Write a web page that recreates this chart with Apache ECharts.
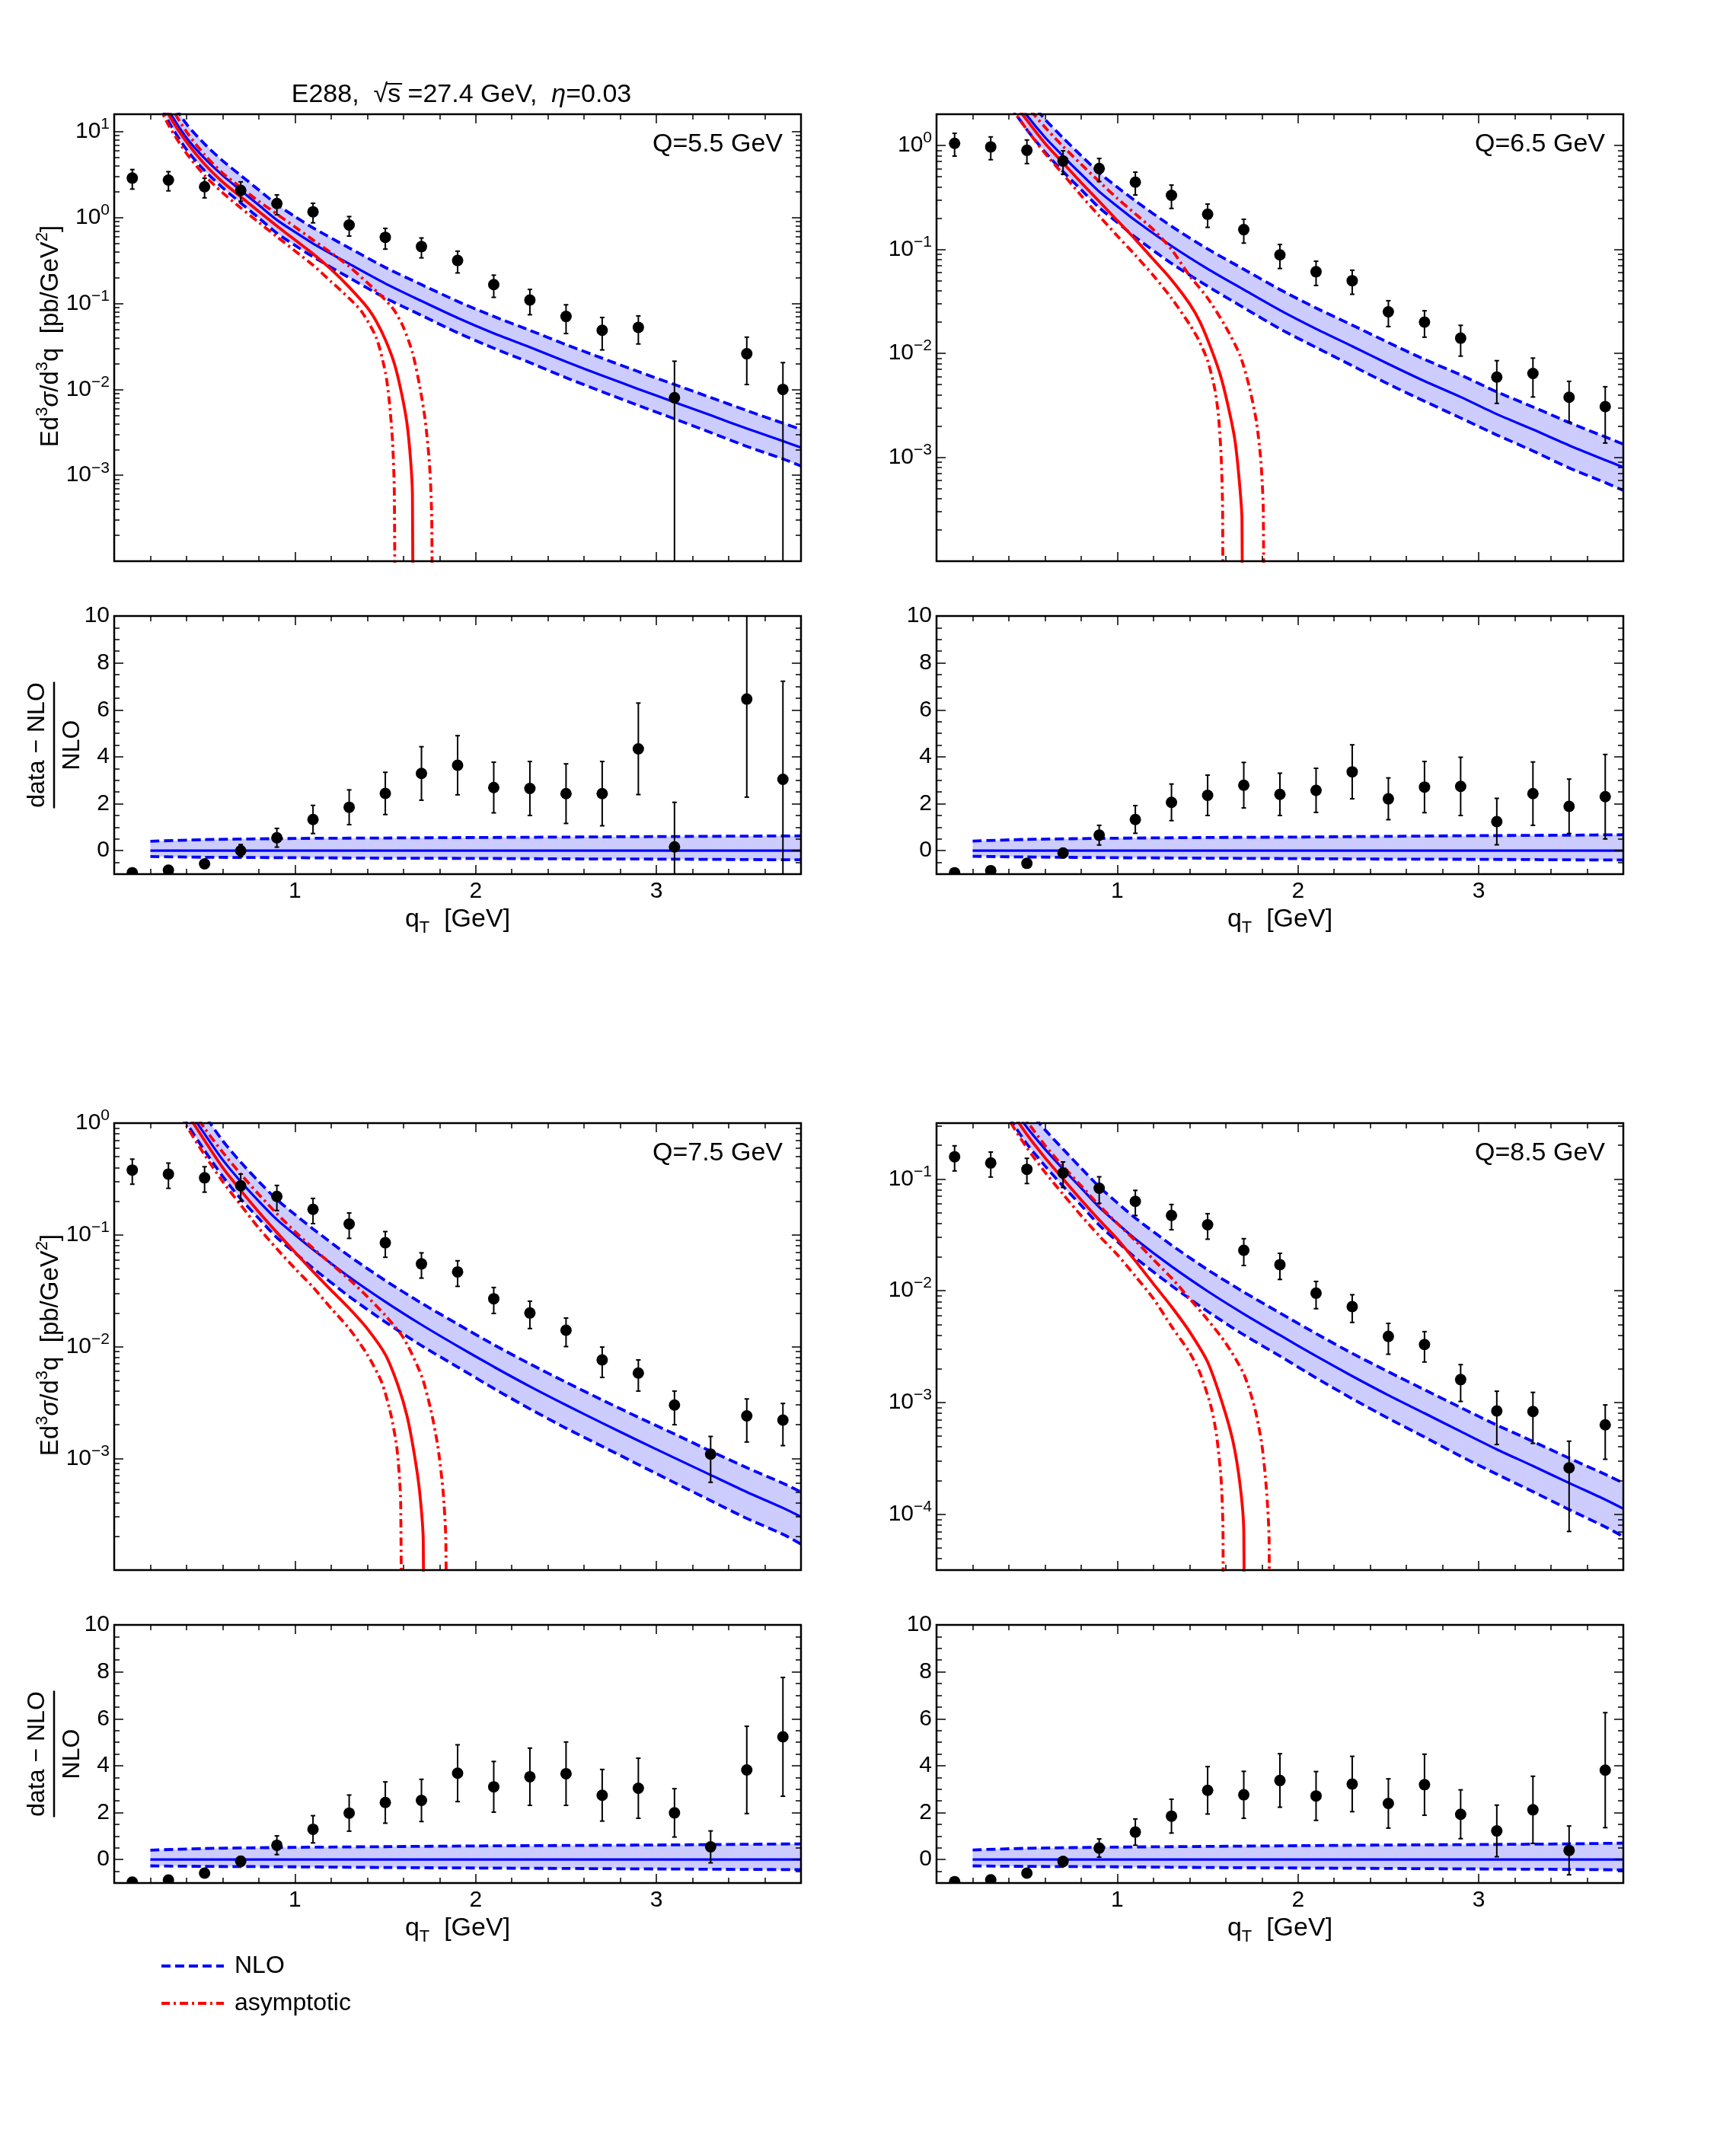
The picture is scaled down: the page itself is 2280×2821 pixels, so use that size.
<!DOCTYPE html>
<html>
<head>
<meta charset="utf-8">
<script src="https://cdn.jsdelivr.net/npm/echarts@6/dist/echarts.min.js"></script>
<style>
html, body { margin: 0; padding: 0; background: #fff; }
#chart { width: 2280px; height: 2821px; }
</style>
</head>
<body>
<div id="chart"></div>
<script>
// ---- data ----
const dataQ = [0.1, 0.3, 0.5, 0.7, 0.9, 1.1, 1.3, 1.5, 1.7, 1.9, 2.1, 2.3, 2.5, 2.7, 2.9, 3.1, 3.3, 3.5, 3.7];
const nloQ = [0.2, 0.3, 0.4, 0.5, 0.6, 0.7, 0.8, 0.9, 1.0, 1.1, 1.3, 1.5, 1.7, 1.9, 2.1, 2.3, 2.5, 2.7, 2.9, 3.1, 3.3, 3.5, 3.7, 3.8];
const bandQ = [0.2, 0.5, 1.0, 1.5, 2.0, 2.5, 3.0, 3.5, 3.8];
const ratioLineQ = [0.2, 3.8];
const ratioLineVal = [0, 0];
const xTickLabels = [1, 2, 3];
const ratioTickLabels = [0, 2, 4, 6, 8, 10];
const qLabels = ['Q=5.5 GeV', 'Q=6.5 GeV', 'Q=7.5 GeV', 'Q=8.5 GeV'];

// Q = 5.5 GeV
const tlYRange = [1e-4, 16];
const tlYExp = [1, 0, -1, -2, -3];
const tlVal = [2.89, 2.74, 2.29, 2.08, 1.46, 1.17, 0.82, 0.59, 0.46, 0.317, 0.166, 0.11, 0.0707, 0.0488, 0.0528, 0.008, null, 0.026, 0.010];
const tlErr = [0.74, 0.69, 0.59, 0.53, 0.38, 0.30, 0.21, 0.16, 0.12, 0.09, 0.048, 0.036, 0.026, 0.02, 0.019, 0.0133, null, 0.0146, 0.0105];
const tlRatio = [-0.94, -0.83, -0.56, 0.0, 0.55, 1.33, 1.85, 2.44, 3.29, 3.64, 2.69, 2.65, 2.43, 2.43, 4.34, 0.16, null, 6.46, 3.04];
const tlRatioErr = [0.03, 0.04, 0.07, 0.26, 0.40, 0.60, 0.74, 0.90, 1.14, 1.26, 1.08, 1.15, 1.27, 1.37, 1.95, 1.90, null, 4.18, 4.18];
const tlNlo = [50, 18, 8.5, 4.9, 3.1, 2.08, 1.4, 0.94, 0.68, 0.50, 0.29, 0.171, 0.107, 0.068, 0.045, 0.031, 0.021, 0.0145, 0.0101, 0.0071, 0.005, 0.0035, 0.0025, 0.0021];
const tlNloUp = [70, 25.7, 12.3, 7.2, 4.59, 3.1, 2.1, 1.42, 1.03, 0.76, 0.444, 0.263, 0.166, 0.106, 0.0707, 0.0487, 0.0332, 0.0231, 0.0161, 0.0114, 0.00805, 0.00567, 0.00405, 0.00342];
const tlNloLo = [37.5, 13.3, 6.2, 3.53, 2.23, 1.48, 0.99, 0.66, 0.476, 0.35, 0.2, 0.116, 0.0728, 0.0456, 0.0302, 0.0205, 0.0137, 0.0094, 0.0065, 0.00454, 0.00315, 0.00217, 0.00155, 0.00128];
const tlAsy = [[0.2, 42], [0.3, 16], [0.4, 7.6], [0.5, 4.2], [0.6, 2.6], [0.7, 1.75], [0.8, 1.18], [0.9, 0.8], [1.0, 0.55], [1.1, 0.38], [1.2, 0.25], [1.3, 0.155], [1.4, 0.09], [1.45, 0.062], [1.5, 0.038], [1.55, 0.02], [1.59, 0.009], [1.62, 0.004], [1.64, 0.0015], [1.65, 0.0006], [1.658, 1e-7]];
const tlAsyUp = [[0.2, 60], [0.3, 22], [0.4, 10], [0.5, 5.4], [0.6, 3.3], [0.7, 2.25], [0.8, 1.55], [0.9, 1.1], [1.0, 0.78], [1.1, 0.55], [1.2, 0.39], [1.3, 0.27], [1.4, 0.175], [1.5, 0.11], [1.55, 0.083], [1.6, 0.053], [1.65, 0.027], [1.69, 0.011], [1.72, 0.0045], [1.745, 0.0013], [1.757, 0.0003], [1.765, 1e-7]];
const tlAsyLo = [[0.2, 33], [0.3, 12], [0.4, 5.6], [0.5, 3.1], [0.6, 1.95], [0.7, 1.3], [0.8, 0.88], [0.9, 0.6], [1.0, 0.41], [1.1, 0.28], [1.2, 0.18], [1.3, 0.115], [1.37, 0.08], [1.45, 0.04], [1.5, 0.016], [1.52, 0.008], [1.54, 0.0025], [1.55, 0.0006], [1.558, 1e-7]];
const tlBandUp = [0.40, 0.47, 0.52, 0.54, 0.56, 0.58, 0.60, 0.62, 0.63];
const tlBandLo = [-0.25, -0.28, -0.30, -0.32, -0.33, -0.35, -0.36, -0.38, -0.39];

// Q = 6.5 GeV
const trYRange = [1e-4, 2];
const trYExp = [0, -1, -2, -3];
const trVal = [1.05, 0.97, 0.90, 0.71, 0.60, 0.444, 0.332, 0.218, 0.155, 0.0885, 0.061, 0.050, 0.0251, 0.020, 0.014, 0.0059, 0.0064, 0.00378, 0.00307];
const trErr = [0.26, 0.24, 0.23, 0.18, 0.15, 0.11, 0.084, 0.055, 0.04, 0.023, 0.016, 0.013, 0.007, 0.0057, 0.0046, 0.0026, 0.0026, 0.0016, 0.0017];
const trRatio = [-0.94, -0.85, -0.54, -0.10, 0.66, 1.33, 2.06, 2.36, 2.79, 2.40, 2.57, 3.36, 2.21, 2.71, 2.74, 1.24, 2.43, 1.89, 2.30];
const trRatioErr = [0.03, 0.04, 0.07, 0.2, 0.42, 0.59, 0.78, 0.86, 0.97, 0.9, 0.94, 1.15, 0.89, 1.09, 1.24, 0.99, 1.35, 1.16, 1.8];
const trNlo = [22, 6.5, 3.4, 1.95, 1.2, 0.79, 0.53, 0.36, 0.26, 0.19, 0.108, 0.065, 0.041, 0.026, 0.0172, 0.0117, 0.0079, 0.0054, 0.0038, 0.0026, 0.00185, 0.0013, 0.00094, 0.0008];
const trNloUp = [31, 9.36, 4.96, 2.89, 1.79, 1.185, 0.80, 0.547, 0.398, 0.293, 0.167, 0.101, 0.0644, 0.0411, 0.0273, 0.0187, 0.0127, 0.00875, 0.0062, 0.00426, 0.00305, 0.00216, 0.00157, 0.00134];
const trNloLo = [16.7, 4.88, 2.52, 1.42, 0.864, 0.561, 0.376, 0.252, 0.182, 0.131, 0.0734, 0.0442, 0.0275, 0.0172, 0.0114, 0.0076, 0.00506, 0.00346, 0.00239, 0.00164, 0.00115, 0.00079, 0.00057, 0.00048];
const trAsy = [[0.2, 19], [0.3, 5.8], [0.4, 3.0], [0.5, 1.75], [0.6, 1.05], [0.7, 0.68], [0.8, 0.44], [0.9, 0.29], [1.0, 0.19], [1.1, 0.125], [1.2, 0.08], [1.3, 0.051], [1.4, 0.03], [1.46, 0.0197], [1.52, 0.011], [1.57, 0.0062], [1.61, 0.0033], [1.65, 0.0015], [1.675, 0.0006], [1.69, 0.00025], [1.70, 1e-7]];
const trAsyUp = [[0.2, 26], [0.3, 7.6], [0.4, 4.1], [0.5, 2.4], [0.6, 1.5], [0.7, 0.98], [0.8, 0.66], [0.9, 0.45], [1.0, 0.31], [1.1, 0.22], [1.2, 0.155], [1.3, 0.1], [1.4, 0.056], [1.5, 0.034], [1.6, 0.018], [1.68, 0.0095], [1.73, 0.0048], [1.77, 0.0022], [1.795, 0.0009], [1.808, 0.0003], [1.816, 1e-7]];
const trAsyLo = [[0.2, 15], [0.3, 4.6], [0.4, 2.5], [0.5, 1.42], [0.6, 0.84], [0.7, 0.53], [0.8, 0.33], [0.9, 0.21], [1.0, 0.135], [1.1, 0.088], [1.2, 0.056], [1.3, 0.034], [1.4, 0.019], [1.45, 0.0135], [1.5, 0.0085], [1.54, 0.0045], [1.56, 0.0025], [1.575, 0.001], [1.583, 0.0003], [1.588, 1e-7]];
const trBandUp = [0.41, 0.48, 0.53, 0.56, 0.58, 0.61, 0.64, 0.66, 0.68];
const trBandLo = [-0.24, -0.27, -0.30, -0.32, -0.34, -0.36, -0.37, -0.39, -0.40];

// Q = 7.5 GeV
const blYRange = [1e-4, 1];
const blYExp = [0, -1, -2, -3];
const blVal = [0.38, 0.35, 0.324, 0.275, 0.221, 0.169, 0.125, 0.085, 0.055, 0.0466, 0.0268, 0.02, 0.014, 0.0076, 0.0058, 0.003, 0.00109, 0.0024, 0.0022];
const blErr = [0.096, 0.089, 0.083, 0.075, 0.056, 0.043, 0.032, 0.022, 0.014, 0.012, 0.007, 0.0055, 0.004, 0.0023, 0.0018, 0.001, 0.00048, 0.001, 0.0009];
const blRatio = [-0.96, -0.87, -0.58, -0.07, 0.61, 1.29, 1.98, 2.43, 2.52, 3.68, 3.10, 3.53, 3.66, 2.74, 3.04, 1.99, 0.54, 3.82, 5.23];
const blRatioErr = [0.03, 0.04, 0.07, 0.2, 0.4, 0.58, 0.77, 0.88, 0.9, 1.21, 1.08, 1.22, 1.35, 1.1, 1.28, 1.03, 0.68, 1.86, 2.53];
const blNlo = [10, 2.8, 1.4, 0.8, 0.47, 0.3, 0.2, 0.137, 0.1, 0.074, 0.042, 0.0252, 0.0157, 0.0101, 0.0066, 0.0044, 0.003, 0.00207, 0.00144, 0.00101, 0.00071, 0.0005, 0.00036, 0.0003];
const blNloUp = [14, 4.0, 2.03, 1.18, 0.696, 0.447, 0.30, 0.207, 0.152, 0.113, 0.0647, 0.039, 0.0245, 0.0159, 0.0104, 0.007, 0.0048, 0.00333, 0.00233, 0.00165, 0.00116, 0.000825, 0.000598, 0.0005];
const blNloLo = [7.3, 2.02, 1.01, 0.568, 0.334, 0.21, 0.14, 0.0945, 0.069, 0.0503, 0.0281, 0.0166, 0.0102, 0.00657, 0.00422, 0.00277, 0.00186, 0.00128, 0.00088, 0.000606, 0.000419, 0.00029, 0.000209, 0.000171];
const blAsy = [[0.2, 8.5], [0.3, 2.4], [0.4, 1.25], [0.5, 0.7], [0.6, 0.4], [0.7, 0.25], [0.8, 0.16], [0.9, 0.105], [1.0, 0.07], [1.1, 0.047], [1.2, 0.032], [1.3, 0.022], [1.4, 0.0145], [1.5, 0.0085], [1.57, 0.0045], [1.62, 0.0024], [1.66, 0.0011], [1.69, 0.0005], [1.71, 0.00018], [1.72, 1e-7]];
const blAsyUp = [[0.2, 12], [0.3, 3.3], [0.4, 1.6], [0.5, 0.9], [0.6, 0.55], [0.7, 0.35], [0.8, 0.23], [0.9, 0.155], [1.0, 0.107], [1.1, 0.076], [1.2, 0.055], [1.3, 0.04], [1.4, 0.028], [1.5, 0.019], [1.6, 0.012], [1.7, 0.0055], [1.75, 0.0028], [1.79, 0.0013], [1.82, 0.0005], [1.835, 0.00018], [1.845, 1e-7]];
const blAsyLo = [[0.2, 7], [0.3, 2.0], [0.4, 0.95], [0.5, 0.52], [0.6, 0.3], [0.7, 0.185], [0.8, 0.115], [0.9, 0.075], [1.0, 0.05], [1.1, 0.034], [1.2, 0.022], [1.3, 0.0145], [1.4, 0.0085], [1.48, 0.0048], [1.53, 0.0025], [1.565, 0.0012], [1.585, 0.0004], [1.595, 1e-7]];
const blBandUp = [0.40, 0.47, 0.52, 0.55, 0.58, 0.60, 0.62, 0.65, 0.67];
const blBandLo = [-0.27, -0.29, -0.31, -0.34, -0.36, -0.38, -0.40, -0.42, -0.43];

// Q = 8.5 GeV
const brYRange = [3.16e-5, 0.316];
const brYExp = [-1, -2, -3, -4];
const brVal = [0.158, 0.139, 0.122, 0.113, 0.0826, 0.063, 0.0471, 0.0389, 0.023, 0.0171, 0.0095, 0.0072, 0.0039, 0.0033, 0.0016, 0.00084, 0.00083, 0.00026, 0.00063];
const brErr = [0.04, 0.035, 0.031, 0.029, 0.022, 0.016, 0.012, 0.01, 0.0062, 0.0045, 0.0026, 0.002, 0.0012, 0.001, 0.00058, 0.00042, 0.0004, 0.00019, 0.00032];
const brRatio = [-0.94, -0.86, -0.58, -0.08, 0.49, 1.17, 1.85, 2.95, 2.76, 3.37, 2.71, 3.22, 2.39, 3.19, 1.93, 1.22, 2.12, 0.39, 3.81];
const brRatioErr = [0.03, 0.04, 0.07, 0.2, 0.39, 0.56, 0.72, 1.01, 1.0, 1.14, 1.04, 1.18, 1.05, 1.3, 1.04, 1.1, 1.43, 1.04, 2.45];
const brNlo = [4, 1.0, 0.5, 0.29, 0.185, 0.123, 0.083, 0.056, 0.04, 0.029, 0.0165, 0.0099, 0.0062, 0.004, 0.0026, 0.00172, 0.00116, 0.0008, 0.00055, 0.00038, 0.00027, 0.00019, 0.000135, 0.000112];
const brNloUp = [5.64, 1.44, 0.73, 0.429, 0.276, 0.185, 0.125, 0.0851, 0.0612, 0.0447, 0.0256, 0.0154, 0.00973, 0.00632, 0.00413, 0.00275, 0.00188, 0.0013, 0.0009, 0.000627, 0.000448, 0.000317, 0.000227, 0.00019];
const brNloLo = [2.92, 0.72, 0.36, 0.206, 0.131, 0.0861, 0.0581, 0.0386, 0.0276, 0.0197, 0.0111, 0.00653, 0.00403, 0.0026, 0.00166, 0.00108, 0.00072, 0.00049, 0.00033, 0.000228, 0.000159, 0.00011, 0.000077, 0.000063];
const brAsy = [[0.2, 3.4], [0.3, 0.88], [0.4, 0.44], [0.5, 0.25], [0.6, 0.155], [0.7, 0.1], [0.8, 0.065], [0.9, 0.043], [1.0, 0.029], [1.1, 0.0185], [1.2, 0.0115], [1.3, 0.0072], [1.4, 0.0043], [1.5, 0.0023], [1.58, 0.001], [1.64, 0.00045], [1.68, 0.00018], [1.70, 0.00007], [1.715, 1e-8]];
const brAsyUp = [[0.2, 4.6], [0.3, 1.15], [0.4, 0.58], [0.5, 0.33], [0.6, 0.2], [0.7, 0.13], [0.8, 0.087], [0.9, 0.058], [1.0, 0.04], [1.1, 0.028], [1.2, 0.019], [1.3, 0.013], [1.4, 0.0085], [1.5, 0.0055], [1.6, 0.0034], [1.7, 0.0018], [1.76, 0.0009], [1.8, 0.00042], [1.825, 0.00017], [1.84, 0.00006], [1.848, 1e-8]];
const brAsyLo = [[0.2, 2.6], [0.3, 0.68], [0.4, 0.34], [0.5, 0.19], [0.6, 0.115], [0.7, 0.073], [0.8, 0.047], [0.9, 0.031], [1.0, 0.021], [1.1, 0.0135], [1.2, 0.0085], [1.3, 0.0048], [1.4, 0.0028], [1.46, 0.0018], [1.52, 0.0009], [1.55, 0.0005], [1.575, 0.0002], [1.585, 0.00007], [1.592, 1e-8]];
const brBandUp = [0.41, 0.48, 0.53, 0.56, 0.59, 0.62, 0.64, 0.67, 0.70];
const brBandLo = [-0.27, -0.29, -0.31, -0.34, -0.36, -0.38, -0.40, -0.42, -0.44];

// ---- layout & style ----
const FONT = '"Liberation Sans", Arial, Helvetica, sans-serif';
const BLUE = '#0000ff', RED = '#ff0000', FILL = '#ccccff';
const panelLeft = [150, 1230, 150, 1230];
const mainTop = [150, 150, 1475, 1475];
const ratioTop = [809, 809, 2134, 2134];
const PW = 902, MH = 587, RH = 339;

const panels = [
  {yr: tlYRange, exp: tlYExp, val: tlVal, err: tlErr, rat: tlRatio, ratErr: tlRatioErr, nlo: tlNlo, up: tlNloUp, lo: tlNloLo, asy: tlAsy, asyUp: tlAsyUp, asyLo: tlAsyLo, bUp: tlBandUp, bLo: tlBandLo},
  {yr: trYRange, exp: trYExp, val: trVal, err: trErr, rat: trRatio, ratErr: trRatioErr, nlo: trNlo, up: trNloUp, lo: trNloLo, asy: trAsy, asyUp: trAsyUp, asyLo: trAsyLo, bUp: trBandUp, bLo: trBandLo},
  {yr: blYRange, exp: blYExp, val: blVal, err: blErr, rat: blRatio, ratErr: blRatioErr, nlo: blNlo, up: blNloUp, lo: blNloLo, asy: blAsy, asyUp: blAsyUp, asyLo: blAsyLo, bUp: blBandUp, bLo: blBandLo},
  {yr: brYRange, exp: brYExp, val: brVal, err: brErr, rat: brRatio, ratErr: brRatioErr, nlo: brNlo, up: brNloUp, lo: brNloLo, asy: brAsy, asyUp: brAsyUp, asyLo: brAsyLo, bUp: brBandUp, bLo: brBandLo}
];

const grids = [], xAxes = [], yAxes = [], series = [], graphics = [];
const tickStyle = {color: '#000', width: 1.5};
const noLine = {show: false, onZero: false};

function zip(xs, ys) { return xs.map((x, i) => [x, ys[i]]); }

function logMinorTicks(r) {
  const out = [];
  for (let n = Math.floor(Math.log10(r[0])); n <= Math.ceil(Math.log10(r[1])); n++) {
    for (let k = 2; k <= 9; k++) {
      const v = k * Math.pow(10, n);
      if (v > r[0] && v < r[1]) out.push(Math.log10(v));
    }
  }
  return out;
}

function logLabel(exps) {
  return function (v) {
    const l = Math.log10(v), e = Math.round(l);
    if (Math.abs(l - e) > 1e-6 || exps.indexOf(e) < 0) return '';
    return '{b|10}{s|' + (e < 0 ? '\u2212' + (-e) : e) + '}';
  };
}

function addX(g, pos, interval, len, labels) {
  xAxes.push({
    type: 'value', gridIndex: g, min: 0, max: 3.8, interval: interval, position: pos, z: 10,
    axisLine: noLine, splitLine: {show: false},
    axisTick: {show: true, inside: true, length: len, lineStyle: tickStyle},
    axisLabel: labels ? {show: true, margin: 8, color: '#000', fontSize: 30, fontFamily: FONT,
      formatter: v => xTickLabels.indexOf(v) >= 0 ? String(v) : ''} : {show: false}
  });
  return xAxes.length - 1;
}

function addY(g, cfg) {
  yAxes.push(Object.assign({gridIndex: g, z: 10, axisLine: noLine, splitLine: {show: false}}, cfg));
  return yAxes.length - 1;
}

function curve(name, xi, yi, pts, color, width, dash, z) {
  return {type: 'line', name: name, xAxisIndex: xi, yAxisIndex: yi, data: pts, symbol: 'none', showSymbol: false,
    smooth: 0.25, clip: true, z: z, silent: true,
    lineStyle: {color: color, width: width, type: dash}, itemStyle: {color: color}};
}

function band(xi, yi, qs, up, lo) {
  return {type: 'custom', xAxisIndex: xi, yAxisIndex: yi, clip: true, z: 1, silent: true,
    data: [[1, 1]],
    renderItem: function (params, api) {
      const pts = [];
      for (let i = 0; i < qs.length; i++) pts.push(api.coord([qs[i], up[i]]));
      for (let i = qs.length - 1; i >= 0; i--) pts.push(api.coord([qs[i], lo[i]]));
      return {type: 'polygon', shape: {points: pts}, style: {fill: FILL}};
    }};
}

function points(xi, yi, vals, errs, isLog) {
  const data = [];
  dataQ.forEach((q, i) => { if (vals[i] != null) data.push([q, vals[i], errs[i]]); });
  return {type: 'custom', xAxisIndex: xi, yAxisIndex: yi, clip: true, z: 20, silent: true,
    dimensions: ['q', 'v', 'e'], encode: {x: 0, y: 1}, data: data,
    renderItem: function (params, api) {
      const q = api.value(0), v = api.value(1), e = api.value(2);
      const lowVal = v - e;
      const lowOff = isLog && lowVal <= 0;
      const top = api.coord([q, v + e]);
      const bot = api.coord([q, lowOff ? 1e-12 : lowVal]);
      const c = api.coord([q, v]);
      const st = {stroke: '#000', lineWidth: 2};
      const kids = [
        {type: 'line', shape: {x1: top[0], y1: top[1], x2: bot[0], y2: bot[1]}, style: st},
        {type: 'line', shape: {x1: top[0] - 3, y1: top[1], x2: top[0] + 3, y2: top[1]}, style: st}
      ];
      if (!lowOff) kids.push({type: 'line', shape: {x1: bot[0] - 3, y1: bot[1], x2: bot[0] + 3, y2: bot[1]}, style: st});
      kids.push({type: 'circle', shape: {cx: c[0], cy: c[1], r: 7.5}, style: {fill: '#000'}});
      return {type: 'group', children: kids};
    }};
}

const DASH = [12, 6];
const DASHDOT = [11, 5, 3, 5];

panels.forEach((p, k) => {
  const gm = grids.length;
  grids.push({left: panelLeft[k], top: mainTop[k], width: PW, height: MH, show: true, borderColor: '#000', borderWidth: 2.5, z: 10});
  const gr = grids.length;
  grids.push({left: panelLeft[k], top: ratioTop[k], width: PW, height: RH, show: true, borderColor: '#000', borderWidth: 2.5, z: 10});

  // main panel axes
  const xm = addX(gm, 'bottom', 1, 12, false);
  addX(gm, 'bottom', 0.2, 7, false);
  addX(gm, 'top', 1, 12, false);
  addX(gm, 'top', 0.2, 7, false);
  const minorLog = logMinorTicks(p.yr);
  const lmin = Math.log10(p.yr[0]), lmax = Math.log10(p.yr[1]);
  const ym = addY(gm, {type: 'log', logBase: 10, min: p.yr[0], max: p.yr[1], position: 'left',
    axisTick: {inside: true, length: 12, lineStyle: tickStyle},
    axisLabel: {show: true, margin: 6, formatter: logLabel(p.exp), color: '#000',
      rich: {b: {fontSize: 30, fontFamily: FONT, color: '#000', lineHeight: 40, verticalAlign: 'middle'},
             s: {fontSize: 21, fontFamily: FONT, color: '#000', lineHeight: 20, verticalAlign: 'top'}}}});
  addY(gm, {type: 'log', logBase: 10, min: p.yr[0], max: p.yr[1], position: 'right',
    axisTick: {inside: true, length: 12, lineStyle: tickStyle}, axisLabel: {show: false}});
  ['left', 'right'].forEach(pos => addY(gm, {type: 'value', min: lmin, max: lmax, position: pos,
    axisTick: {inside: true, length: 7, lineStyle: tickStyle, customValues: minorLog}, axisLabel: {show: false}}));

  // ratio panel axes
  const xr = addX(gr, 'bottom', 1, 12, true);
  addX(gr, 'bottom', 0.2, 7, false);
  addX(gr, 'top', 1, 12, false);
  addX(gr, 'top', 0.2, 7, false);
  const yr = addY(gr, {type: 'value', min: -1, max: 10, position: 'left',
    axisTick: {inside: true, length: 12, lineStyle: tickStyle, customValues: ratioTickLabels},
    axisLabel: {show: true, margin: 6, color: '#000', fontSize: 30, fontFamily: FONT, customValues: ratioTickLabels,
      formatter: v => ratioTickLabels.indexOf(v) >= 0 ? String(v) : ''}});
  addY(gr, {type: 'value', min: -1, max: 10, position: 'right',
    axisTick: {inside: true, length: 12, lineStyle: tickStyle, customValues: ratioTickLabels}, axisLabel: {show: false}});
  ['left', 'right'].forEach(pos => addY(gr, {type: 'value', min: -1, max: 10, interval: 0.5, position: pos,
    axisTick: {inside: true, length: 7, lineStyle: tickStyle}, axisLabel: {show: false}}));

  // main panel series
  series.push(band(xm, ym, nloQ, p.up, p.lo));
  series.push(curve('NLO', xm, ym, zip(nloQ, p.up), BLUE, 3.8, DASH, 3));
  series.push(curve('NLO', xm, ym, zip(nloQ, p.lo), BLUE, 3.8, DASH, 3));
  series.push(curve('NLO central', xm, ym, zip(nloQ, p.nlo), BLUE, 3.2, 'solid', 3));
  series.push(curve('asymptotic', xm, ym, p.asyUp, RED, 3.8, DASHDOT, 4));
  series.push(curve('asymptotic', xm, ym, p.asyLo, RED, 3.8, DASHDOT, 4));
  series.push(curve('asymptotic central', xm, ym, p.asy, RED, 3.8, 'solid', 4));
  series.push(points(xm, ym, p.val, p.err, true));

  // ratio panel series
  series.push(band(xr, yr, bandQ, p.bUp, p.bLo));
  series.push(curve('NLO', xr, yr, zip(bandQ, p.bUp), BLUE, 3.8, DASH, 3));
  series.push(curve('NLO', xr, yr, zip(bandQ, p.bLo), BLUE, 3.8, DASH, 3));
  series.push(curve('NLO central', xr, yr, zip(ratioLineQ, ratioLineVal), BLUE, 3.2, 'solid', 3));
  series.push(points(xr, yr, p.rat, p.ratErr, false));

  // texts
  graphics.push({type: 'text', x: panelLeft[k] + PW - 24, y: mainTop[k] + 40, silent: true,
    style: {text: qLabels[k], fill: '#000', fontSize: 34, fontFamily: FONT, textAlign: 'right', textVerticalAlign: 'middle'}});
  graphics.push({type: 'text', x: panelLeft[k] + PW / 2, y: ratioTop[k] + RH + 60, silent: true,
    style: {text: '{b|q}{t|T}{b|  [GeV]}', fill: '#000', textAlign: 'center', textVerticalAlign: 'middle',
      rich: {b: {fontSize: 34, fontFamily: FONT, fill: '#000', lineHeight: 44, verticalAlign: 'middle'},
             t: {fontSize: 22, fontFamily: FONT, fill: '#000', lineHeight: 22, verticalAlign: 'bottom'}}}});
  if (k % 2 === 0) {
    const cm = mainTop[k] + MH / 2 - 2;
    graphics.push({type: 'text', x: 67, y: cm, rotation: Math.PI / 2, silent: true,
      style: {text: '{n|Ed}{s|3}{i|\u03c3}{n|/d}{s|3}{n|q  [pb/GeV}{s|2}{n|]}', textAlign: 'center', textVerticalAlign: 'middle',
        rich: {n: {fontSize: 33, fontFamily: FONT, fill: '#000', lineHeight: 44, verticalAlign: 'middle'},
               i: {fontSize: 33, fontFamily: FONT, fontStyle: 'italic', fill: '#000', lineHeight: 44, verticalAlign: 'middle'},
               s: {fontSize: 22, fontFamily: FONT, fill: '#000', lineHeight: 22, verticalAlign: 'top'}}}});
    const cr = ratioTop[k] + RH / 2;
    graphics.push({type: 'text', x: 49, y: cr, rotation: Math.PI / 2, silent: true,
      style: {text: 'data \u2212 NLO', fill: '#000', fontSize: 32, fontFamily: FONT, textAlign: 'center', textVerticalAlign: 'middle'}});
    graphics.push({type: 'line', silent: true, shape: {x1: 71, y1: cr - 83, x2: 71, y2: cr + 83}, style: {stroke: '#000', lineWidth: 2.5}});
    graphics.push({type: 'text', x: 95, y: cr, rotation: Math.PI / 2, silent: true,
      style: {text: 'NLO', fill: '#000', fontSize: 32, fontFamily: FONT, textAlign: 'center', textVerticalAlign: 'middle'}});
  }
});

// title with an overline over the s under the root
const TFS = 34;
const mctx = document.createElement('canvas').getContext('2d');
function tw(str, italic) { mctx.font = (italic ? 'italic ' : '') + TFS + 'px ' + FONT; return mctx.measureText(str).width; }
const tParts = ['E288,  \u221a', 's', ' =27.4 GeV,  ', '\u03b7', '=0.03'];
const tW = tw(tParts[0]) + tw(tParts[1]) + tw(tParts[2]) + tw(tParts[3], true) + tw(tParts[4]);
const tCx = 606, tCy = 125;
const sx0 = tCx - tW / 2 + tw(tParts[0]);
graphics.push({type: 'text', x: tCx, y: tCy, silent: true,
  style: {text: '{n|' + tParts[0] + tParts[1] + tParts[2] + '}{i|' + tParts[3] + '}{n|' + tParts[4] + '}',
    textAlign: 'center', textVerticalAlign: 'middle',
    rich: {n: {fontSize: TFS, fontFamily: FONT, fill: '#000'}, i: {fontSize: TFS, fontFamily: FONT, fontStyle: 'italic', fill: '#000'}}}});
graphics.push({type: 'line', silent: true, shape: {x1: sx0 - 1, y1: tCy - 15, x2: sx0 + tw('s') + 2, y2: tCy - 15}, style: {stroke: '#000', lineWidth: 2}});

const chart = echarts.init(document.getElementById('chart'), null, {renderer: 'canvas'});
chart.setOption({
  animation: false,
  backgroundColor: '#fff',
  grid: grids,
  xAxis: xAxes,
  yAxis: yAxes,
  legend: {
    data: ['NLO', 'asymptotic'], orient: 'vertical', left: 205, top: 2561,
    itemWidth: 82, itemHeight: 40, itemGap: 17, selectedMode: false,
    itemStyle: {opacity: 0},
    lineStyle: {width: 4},
    textStyle: {fontSize: 32, fontFamily: FONT, color: '#000', padding: [0, 0, 0, 9]}
  },
  series: series,
  graphic: graphics
});
</script>
</body>
</html>
